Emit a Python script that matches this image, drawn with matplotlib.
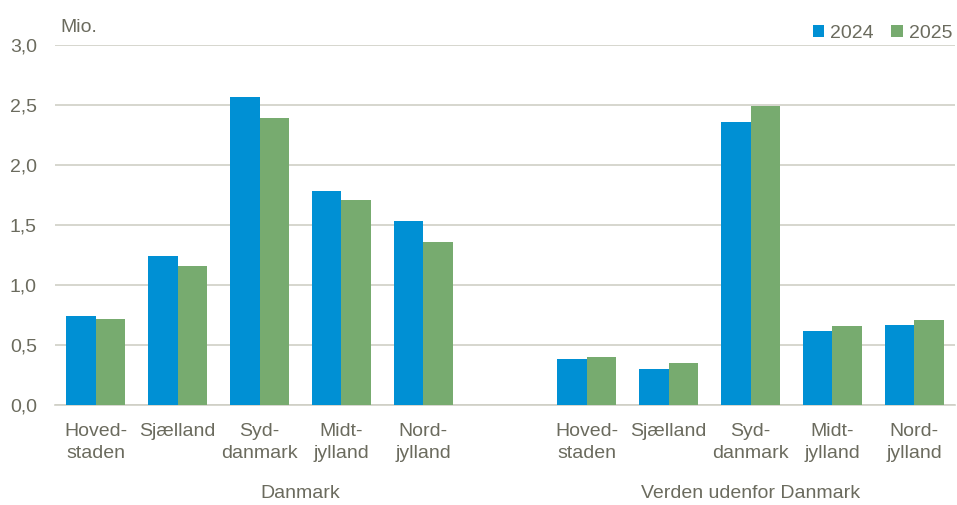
import matplotlib.pyplot as plt
import numpy as np

regions = ["Hoved-\nstaden", "Sjælland", "Syd-\ndanmark", "Midt-\njylland", "Nord-\njylland"]
groups = ["Danmark", "Verden udenfor Danmark"]
dk_2024 = [0.74, 1.24, 2.57, 1.78, 1.53]
dk_2025 = [0.72, 1.16, 2.39, 1.71, 1.36]
world_2024 = [0.38, 0.30, 2.36, 0.62, 0.67]
world_2025 = [0.40, 0.35, 2.49, 0.66, 0.71]

blue = "#0090d4"
green = "#77ab6f"
txt = "#6b6b5e"
grid = "#cfcfc6"

plt.rcParams['font.family'] = ['Liberation Sans', 'DejaVu Sans']

fig = plt.figure(figsize=(9.57, 5.05), dpi=100)
ax = fig.add_axes([0.0575, 0.198, 0.9405, 0.713])

# Danmark in slots 0-4, gap at 5, Verden in 6-10
x_dk = np.arange(5)
x_w = np.arange(6, 11)
w = 0.36
ax.bar(x_dk - w / 2, dk_2024, w, color=blue, label="2024", zorder=3)
ax.bar(x_dk + w / 2, dk_2025, w, color=green, label="2025", zorder=3)
ax.bar(x_w - w / 2, world_2024, w, color=blue, zorder=3)
ax.bar(x_w + w / 2, world_2025, w, color=green, zorder=3)

ax.set_xlim(-0.5, 10.5)
ax.set_ylim(0, 3.0)
ax.set_yticks(np.arange(0, 3.01, 0.5))
ax.set_yticklabels([f"{v:.1f}".replace(".", ",") for v in np.arange(0, 3.01, 0.5)])
ax.yaxis.grid(True, color=grid, linewidth=1.2, zorder=0)
ax.set_axisbelow(True)
for s in ["top", "right", "left"]:
    ax.spines[s].set_visible(False)
ax.spines["bottom"].set_color(grid)
ax.spines["bottom"].set_linewidth(1.2)
ax.tick_params(axis="y", length=0, pad=13, labelsize=14, labelcolor=txt)
ax.tick_params(axis="x", length=0, pad=13, labelsize=14, labelcolor=txt)

ax.set_xticks(list(x_dk) + list(x_w))
ax.set_xticklabels(regions + regions, linespacing=1.35, va="top")

ax.text(2.5, -0.74, groups[0], ha="center", va="center", fontsize=14, color=txt,
        clip_on=False)
ax.text(8, -0.74, groups[1], ha="center", va="center", fontsize=14, color=txt,
        clip_on=False)
fig.text(0.063, 0.946, "Mio.", fontsize=14, color=txt, va="center")

leg = ax.legend(loc="lower right", bbox_to_anchor=(1.0, 1.0), ncol=2, frameon=False,
                fontsize=14, handlelength=0.6, handleheight=0.6, handletextpad=0.3,
                columnspacing=0.9, borderaxespad=0.15, borderpad=0.0)
for t in leg.get_texts():
    t.set_color(txt)

fig.savefig("out.png", dpi=100)
